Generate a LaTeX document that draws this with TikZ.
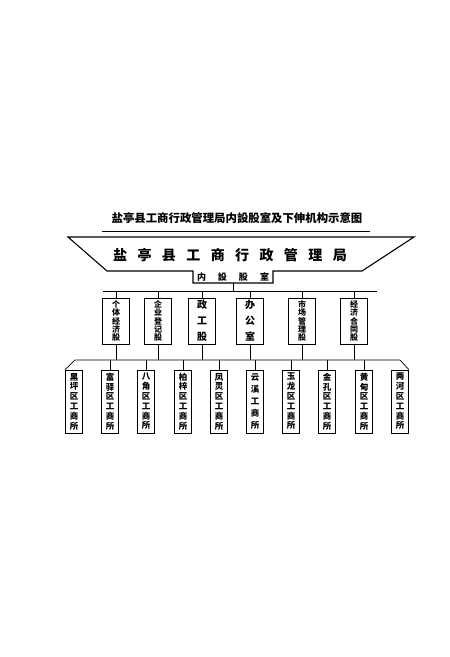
\documentclass[tikz,border=0pt]{standalone}
\usepackage{fontspec}
\setmainfont{Noto Sans CJK SC}
\usetikzlibrary{positioning}

\begin{document}
\begin{tikzpicture}[x=1pt, y=-1pt,
  upbox/.style={draw, shape=rectangle, line width=0.8pt, minimum width=27pt, minimum height=46pt, inner sep=0pt, align=center, font=\fontsize{8}{8.3}\selectfont\bfseries},
  upwide/.style={upbox, font=\fontsize{10}{16}\selectfont\bfseries},
  lowbox/.style={draw, shape=rectangle, line width=0.8pt, minimum width=17pt, minimum height=63pt, inner sep=0pt, align=center, font=\fontsize{8.5}{9.8}\selectfont\bfseries},
  lowwide/.style={lowbox, font=\fontsize{8.5}{12}\selectfont\bfseries},
  wire/.style={line width=0.7pt}]
\useasboundingbox (0,0) rectangle (450,657);
\node[font=\fontsize{11.4}{12}\selectfont\bfseries] (ttl) at (237,218) {盐亭县工商行政管理局内設股室及下伸机构示意图};
\draw[line width=0.9pt] (102,231) -- (370,231);
\draw[line width=1.1pt] (68,237) -- (414,237) -- (362,271) -- (273,271) -- (273,283) -- (193,283) -- (193,271) -- (107,271) -- cycle;
\node[font=\fontsize{14}{14}\selectfont\bfseries] (bur) at (230,255) {盐\kern10.4pt 亭\kern10.4pt 县\kern10.4pt 工\kern10.4pt 商\kern10.4pt 行\kern10.4pt 政\kern10.4pt 管\kern10.4pt 理\kern10.4pt 局};
\node[minimum width=80pt, minimum height=12pt, inner sep=0pt, font=\fontsize{9}{9}\selectfont\bfseries] (nsg) at (233,277) {内\kern12pt 設\kern12pt 股\kern12pt 室};
\coordinate (ub1) at (103,291);
\coordinate (ub2) at (377,291);
\node[upbox] (gt) at (116,321) {个\\体\\经\\济\\股};
\node[upbox] (qy) at (158,321) {企\\业\\登\\记\\股};
\node[upwide] (zg) at (202,321) {政\\工\\股};
\node[upwide] (bg) at (250,321) {办\\公\\室};
\node[upbox] (sc) at (302,321) {市\\场\\管\\理\\股};
\node[upbox] (ht) at (354,321) {经\\济\\合\\同\\股};
\coordinate (lb1) at (75,360);
\coordinate (lb2) at (400,360);
\node[lowbox] (hp) at (74,401.5) {黑\\坪\\区\\工\\商\\所};
\node[lowbox] (fy) at (110,401.5) {富\\驿\\区\\工\\商\\所};
\node[lowbox] (bj) at (146,401.5) {八\\角\\区\\工\\商\\所};
\node[lowbox] (bz) at (183,401.5) {柏\\梓\\区\\工\\商\\所};
\node[lowbox] (fl) at (219,401.5) {凤\\灵\\区\\工\\商\\所};
\node[lowwide] (yx) at (255,401.5) {云\\溪\\工\\商\\所};
\node[lowbox] (yl) at (291,401.5) {玉\\龙\\区\\工\\商\\所};
\node[lowbox] (jk) at (327,401.5) {金\\孔\\区\\工\\商\\所};
\node[lowbox] (hd) at (364,401.5) {黄\\甸\\区\\工\\商\\所};
\node[lowbox] (lh) at (400,401.5) {两\\河\\区\\工\\商\\所};
\draw[wire] (ub1) -- (ub2);
\draw[wire] (nsg.south) -- (nsg.south |- ub1);
\foreach \n in {gt,qy,zg,bg,sc,ht} {
  \draw[wire] (\n.north |- ub1) -- (\n.north);
  \draw[wire] (\n.south) -- (\n.south |- lb1);
}
\draw[wire] (hp.north west) -- (lb1) -- (lb2) -- (lh.north east);
\foreach \n in {fy,bj,bz,fl,yx,yl,jk,hd}
  \draw[wire] (\n.north |- lb1) -- (\n.north);
\end{tikzpicture}
\end{document}
